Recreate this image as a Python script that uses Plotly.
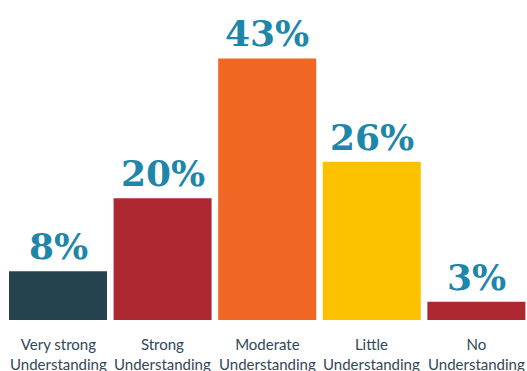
import plotly.graph_objects as go

categories = ["Very strong<br>Understanding", "Strong<br>Understanding", "Moderate<br>Understanding",
              "Little<br>Understanding", "No<br>Understanding"]
values = [8, 20, 43, 26, 3]
value_labels = ["8%", "20%", "43%", "26%", "3%"]
colors = ["#25434f", "#ae2832", "#f06723", "#fcc200", "#ae2832"]

x = list(range(len(categories)))

fig = go.Figure()
fig.add_trace(go.Bar(x=x, y=values, marker=dict(color=colors, line=dict(width=0)),
                     width=0.937, hoverinfo="skip"))

for i, (v, t) in enumerate(zip(values, value_labels)):
    fig.add_annotation(x=i, y=v, text=t, showarrow=False, yanchor="bottom", yshift=2,
                       font=dict(family="DejaVu Serif", size=36, color="#1e86a8", weight="bold"))
    fig.add_annotation(x=i, y=0, yref="paper", text=categories[i], showarrow=False,
                       yanchor="top", yshift=-13, align="center",
                       font=dict(family="Lato", size=15, color="#2f4858"))

fig.update_layout(
    width=527, height=371,
    margin=dict(l=0, r=0, t=0, b=51),
    plot_bgcolor="white", paper_bgcolor="white",
    showlegend=False,
    xaxis=dict(range=[-0.5545, 4.484], showticklabels=False, showgrid=False, zeroline=False,
               showline=False, ticks=""),
    yaxis=dict(range=[0, 52.6], showticklabels=False, showgrid=False, zeroline=False,
               showline=False, ticks=""),
)

fig.write_html("out.html", config={"displayModeBar": False},
               post_script="document.body.style.margin='0';document.body.style.overflow='hidden';")
